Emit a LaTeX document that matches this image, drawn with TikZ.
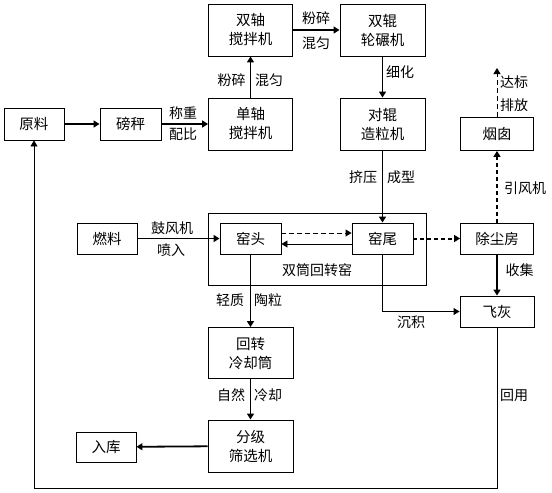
\documentclass[tikz,border=0pt]{standalone}
\usepackage{fontspec}
\setmainfont{Noto Sans CJK SC}
\usetikzlibrary{arrows.meta,calc}
\begin{document}
\begin{tikzpicture}[x=1pt,y=-1pt,
  box/.style={draw,line width=0.9pt,inner sep=0pt,align=center,font=\fontsize{14.5}{19}\selectfont},
  lbl/.style={inner sep=0pt,font=\fontsize{14}{16}\selectfont},
  thick flow/.style={line width=1.8pt,-{Triangle[length=6pt,width=7pt]}},
  thin flow/.style={line width=0.9pt,-{Triangle[length=6pt,width=7pt]}},
  thick dash/.style={line width=2pt,dash pattern=on 4pt off 3pt,-{Triangle[length=6pt,width=7pt]}},
  thin dash/.style={line width=0.9pt,dash pattern=on 5pt off 3pt,-{Triangle[length=6pt,width=7pt]}}]
\useasboundingbox (0,0) rectangle (552,493);
% boxes
\node[box,minimum width=60pt,minimum height=32pt] (yl) at (34,124) {原料};
\node[box,minimum width=61pt,minimum height=32pt] (bc) at (130.5,124) {磅秤};
\node[box,minimum width=84pt,minimum height=52pt] (dz) at (250.5,124) {单轴\\搅拌机};
\node[box,minimum width=84pt,minimum height=52pt] (sz) at (250.5,30) {双轴\\搅拌机};
\node[box,minimum width=85pt,minimum height=52pt] (sg) at (382.5,30) {双辊\\轮碾机};
\node[box,minimum width=85pt,minimum height=52pt] (dg) at (382.5,124) {对辊\\造粒机};
\node[box,minimum width=73pt,minimum height=33pt] (yc) at (497,134) {烟囱};
\node[box,minimum width=60pt,minimum height=31pt] (rl) at (107,238.5) {燃料};
\node[draw,line width=0.9pt,minimum width=218pt,minimum height=72pt,inner sep=0pt] (kiln) at (317,249) {};
\node[box,minimum width=61pt,minimum height=31pt] (yt) at (250.5,238.5) {窑头};
\node[box,minimum width=61pt,minimum height=31pt] (yw) at (382.5,238.5) {窑尾};
\node[box,minimum width=73pt,minimum height=31pt] (cc) at (497,238.5) {除尘房};
\node[box,minimum width=74pt,minimum height=31pt] (fh) at (497,311.5) {飞灰};
\node[box,minimum width=85pt,minimum height=51pt] (hz) at (250.5,353) {回转\\冷却筒};
\node[box,minimum width=85pt,minimum height=52pt] (fj) at (250.5,446) {分级\\筛选机};
\node[box,minimum width=60pt,minimum height=30pt] (rk) at (106,447) {入库};
\coordinate (top) at (497,68);
\coordinate (loop) at (497,488);
% connectors
\draw[thick flow] (yl) -- (bc);
\draw[thick flow] (bc) -- (dz);
\draw[thick flow] (dz) -- (sz);
\draw[thick flow] (sz) -- (sg);
\draw[thick flow] (sg) -- (dg);
\draw[thick flow] (dg) -- (yw);
\draw[thick flow] (rl) -- (yt);
\draw[thin dash] ([yshift=5.5pt]yt.east) -- ([yshift=5.5pt]yw.west);
\draw[thin flow] ([yshift=-5.5pt]yw.west) -- ([yshift=-5.5pt]yt.east);
\draw[thick dash] (yw) -- (cc);
\draw[thick dash] (cc) -- (yc);
\draw[thin dash] (yc) -- (top);
\draw[thick flow] (cc) -- (fh);
\draw[thin flow] (yw.south) |- (fh.west);
\draw[thick flow] (yt) -- (hz);
\draw[thick flow] (hz) -- (fj);
\draw[thick flow] (fj) -- (rk);
\draw[thin flow] (fh.south) -- (loop) -| (yl.south);
% labels
\node[lbl] (l1) at (183,113) {称重};
\node[lbl] (l2) at (183,134) {配比};
\node[lbl] (l3) at (231.5,80) {粉碎};
\node[lbl] (l4) at (269,80) {混匀};
\node[lbl] (l5) at (316,18) {粉碎};
\node[lbl] (l6) at (316,43) {混匀};
\node[lbl] (l7) at (400,72) {细化};
\node[lbl] (l8) at (514,82) {达标};
\node[lbl] (l9) at (514,105) {排放};
\node[lbl] (l10) at (363,177) {挤压};
\node[lbl] (l11) at (401,177) {成型};
\node[lbl] (l12) at (525,188) {引风机};
\node[lbl] (l13) at (172,228) {鼓风机};
\node[lbl] (l14) at (171,250) {喷入};
\node[lbl] (l15) at (317,270) {双筒回转窑};
\node[lbl] (l16) at (230,300) {轻质};
\node[lbl] (l17) at (268,300) {陶粒};
\node[lbl] (l18) at (411,322) {沉积};
\node[lbl] (l19) at (519.5,270) {收集};
\node[lbl] (l20) at (231,395) {自然};
\node[lbl] (l21) at (268,395) {冷却};
\node[lbl] (l22) at (514,395) {回用};
\end{tikzpicture}
\end{document}
